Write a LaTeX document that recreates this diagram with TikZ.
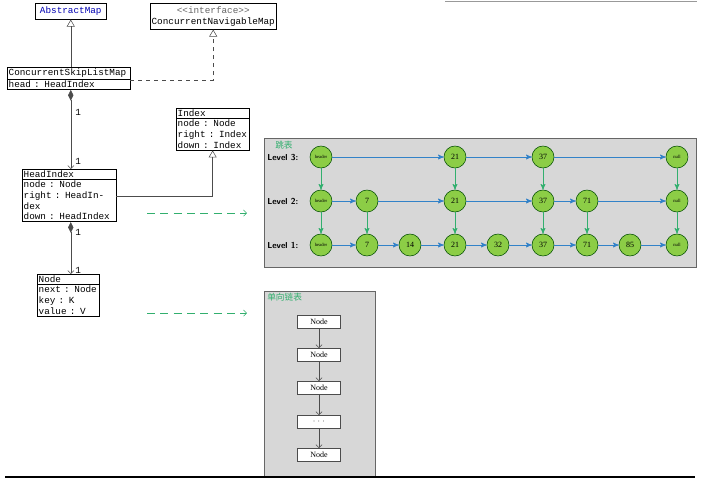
\documentclass[tikz,border=0pt]{standalone}
\usepackage{fontspec}
\setmainfont{Liberation Serif}
\newfontfamily\cjk{Noto Sans CJK SC}
\newfontfamily\monof{Liberation Mono}
\usetikzlibrary{shapes,arrows,arrows.meta}
\usetikzlibrary{positioning}
\definecolor{skipgreen}{RGB}{140,205,70}
\definecolor{linkblue}{RGB}{50,130,200}
\definecolor{downgreen}{RGB}{50,175,110}
\definecolor{boxgray}{RGB}{215,215,215}
\tikzset{>=open triangle 60, font=\fontsize{7}{8}\selectfont\monof}
\tikzstyle{uml} = [draw, rectangle split, rectangle split parts=2, fill=white, anchor=north west, inner sep=1pt, align=left, line width=0.5pt]
\tikzstyle{title} = [draw, fill=white, anchor=north west, inner sep=1pt, align=center]
\tikzstyle{elem} = [draw=black!70!green, fill=skipgreen, circle, minimum size=16.5pt, inner sep=0pt, font=\fontsize{6}{6}\selectfont\rmfamily]
\tikzstyle{hnode} = [elem, font=\fontsize{3.5}{4}\selectfont\rmfamily]
\tikzstyle{right link} = [->, >=stealth', draw=linkblue, line width=0.6pt]
\tikzstyle{down link} = [->, >=stealth', draw=downgreen, line width=0.6pt]
\tikzstyle{panel} = [draw=black!60, fill=boxgray, anchor=north west, inner sep=0pt]
\tikzstyle{list} = [draw=black!70, fill=white, minimum width=32pt, minimum height=10pt, inner sep=0pt, font=\fontsize{6}{6}\selectfont\rmfamily]

\begin{document}
\begin{tikzpicture}[x=0.75pt, y=-0.75pt]
    \useasboundingbox (0,0) rectangle (707,486);
    % class diagram
    \node [title, minimum width=53.25pt, minimum height=12pt, text=blue!70!black] (abstract) at (35,3) {AbstractMap};
    \node [title, minimum width=93.75pt, minimum height=19.5pt, font=\fontsize{7}{8}\selectfont\monof] (inter) at (150,3) {{\color{black!60}<<interface>>}\\ConcurrentNavigableMap};
    \node [uml, text width=90pt] (cslm) at (7,67) {\centering ConcurrentSkipListMap \nodepart{second} head : HeadIndex};
    \node [uml, text width=52.5pt] (index) at (176,108) {\centering Index \nodepart{second} node : Node\\right : Index\\down : Index};
    \node [uml, text width=68.5pt] (headidx) at (22,169) {\centering HeadIndex \nodepart{second} node : Node\\right : HeadIndex\\down : HeadIndex};
    \node [uml, text width=44.5pt] (node) at (37,274) {\centering Node \nodepart{second} next : Node\\key : K\\value : V};
    \coordinate (c1) at (130,80);
    \coordinate (h1) at (116,196);

    \draw [->, draw=black!70] (cslm.north -| abstract.south) -- (abstract.south);
    \draw [->, dashed, draw=black!70] (c1) -| (inter.south);
    \draw [->, draw=black!70] (h1) -| (index.south);
    \draw [{Diamond[length=8pt,width=4pt]}-{Straight Barb}, draw=black!70] (cslm.south -| abstract.south) -- node [pos=0.28, right] {1} node [pos=0.9, right] {1} (headidx.north -| abstract.south);
    \draw [{Diamond[length=8pt,width=4pt]}-{Straight Barb}, draw=black!70] (headidx.south -| abstract.south) -- node [pos=0.2, right] {1} node [pos=0.93, right] {1} (node.north -| abstract.south);

    % skip list
    \node [panel, minimum width=324pt, minimum height=96.75pt] (skip) at (264,138) {};
    \node [anchor=north west, inner sep=0pt, text=downgreen, font=\fontsize{6.5}{7}\selectfont\cjk] (skiptitle) at (275,141) {跳表};
    \foreach \lv/\y in {3/157, 2/201, 1/245}
        \node [anchor=west, inner sep=0pt, font=\fontsize{6.5}{7}\selectfont\sffamily\bfseries] (lev\lv) at (267,\y) {Level \lv:};
    \foreach \lv/\y in {3/157, 2/201, 1/245} {
        \node [hnode] (h\lv) at (321,\y) {header};
        \node [hnode] (n\lv) at (677,\y) {null};
    }
    \foreach \v/\x in {21/455, 37/543} \node [elem] (e3\v) at (\x,157) {\v};
    \foreach \v/\x in {7/367, 21/455, 37/543, 71/587} \node [elem] (e2\v) at (\x,201) {\v};
    \foreach \v/\x in {7/367, 14/410, 21/455, 32/498, 37/543, 71/587, 85/630} \node [elem] (e1\v) at (\x,245) {\v};

    \draw [right link] (h3) -- (e321);
    \draw [right link] (e321) -- (e337);
    \draw [right link] (e337) -- (n3);
    \draw [right link] (h2) -- (e27);
    \draw [right link] (e27) -- (e221);
    \draw [right link] (e221) -- (e237);
    \draw [right link] (e237) -- (e271);
    \draw [right link] (e271) -- (n2);
    \draw [right link] (h1) -- (e17);
    \draw [right link] (e17) -- (e114);
    \draw [right link] (e114) -- (e121);
    \draw [right link] (e121) -- (e132);
    \draw [right link] (e132) -- (e137);
    \draw [right link] (e137) -- (e171);
    \draw [right link] (e171) -- (e185);
    \draw [right link] (e185) -- (n1);
    \draw [down link] (h3) -- (h2);
    \draw [down link] (h2) -- (h1);
    \draw [down link] (e321) -- (e221);
    \draw [down link] (e221) -- (e121);
    \draw [down link] (e337) -- (e237);
    \draw [down link] (e237) -- (e137);
    \draw [down link] (e27) -- (e17);
    \draw [down link] (e271) -- (e171);
    \draw [down link] (n3) -- (n2);
    \draw [down link] (n2) -- (n1);

    % linked list
    \node [panel, minimum width=83.25pt, minimum height=138.75pt] (linked) at (264,291) {};
    \node [anchor=north west, inner sep=0pt, text=downgreen, font=\fontsize{6.5}{7}\selectfont\cjk] (linktitle) at (267,293) {单向链表};
    \foreach \i/\y/\t in {1/322/Node, 2/355/Node, 3/388/Node, 4/422/{$\cdots$}, 5/455/Node}
        \node [list] (l\i) at (319,\y) {\t};
    \foreach \i [evaluate=\i as \j using int(\i+1)] in {1,...,4}
        \draw [-{Straight Barb}, draw=black!70] (l\i) -- (l\j);

    % links between views
    \coordinate (d1) at (147,213);
    \coordinate (d2) at (247,213);
    \coordinate (d3) at (147,313);
    \coordinate (d4) at (247,313);
    \draw [-{Straight Barb}, dash pattern=on 6pt off 4pt, draw=downgreen] (d1) -- (d2);
    \draw [-{Straight Barb}, dash pattern=on 6pt off 4pt, draw=downgreen] (d3) -- (d4);

    % page rules
    \coordinate (r1) at (5,477);
    \coordinate (r2) at (695,477);
    \coordinate (t1) at (445,1);
    \coordinate (t2) at (697,1);
    \draw [line width=1.5pt] (r1) -- (r2);
    \draw [draw=black!40, line width=0.4pt] (t1) -- (t2);
\end{tikzpicture}
\end{document}
